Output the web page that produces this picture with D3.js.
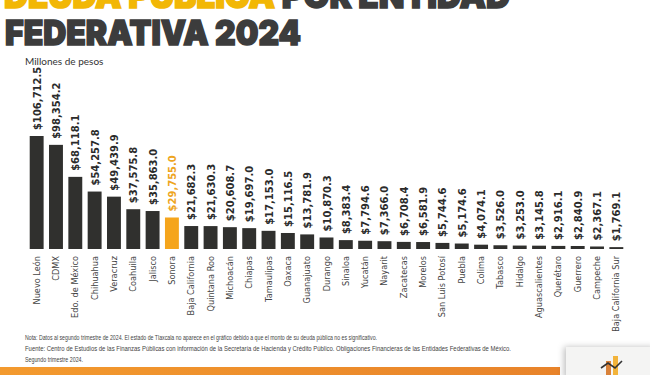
<!DOCTYPE html>
<html>
<head>
<meta charset="utf-8">
<script src="https://cdn.jsdelivr.net/npm/d3@7"></script>
<style>
  html, body { margin: 0; padding: 0; background: #fff; }
  svg { display: block; }
</style>
</head>
<body>
<svg id="chart"></svg>
<script>
const width = 650;
const height = 375;

// data
const estados = ["Nuevo León", "CDMX", "Edo. de México", "Chihuahua", "Veracruz", "Coahuila", "Jalisco",
  "Sonora", "Baja California", "Quintana Roo", "Michoacán", "Chiapas", "Tamaulipas", "Oaxaca",
  "Guanajuato", "Durango", "Sinaloa", "Yucatán", "Nayarit", "Zacatecas", "Morelos", "San Luis Potosí",
  "Puebla", "Colima", "Tabasco", "Hidalgo", "Aguascalientes", "Querétaro", "Guerrero", "Campeche",
  "Baja California Sur"];
const deuda = [106712.5, 98354.2, 68118.1, 54257.8, 49439.9, 37575.8, 35863.0,
  29755.0, 21682.3, 21630.3, 20608.7, 19697.0, 17153.0, 15116.5,
  13781.9, 10870.3, 8383.4, 7794.6, 7366.0, 6708.4, 6581.9, 5744.6,
  5174.6, 4074.1, 3526.0, 3253.0, 3145.8, 2916.1, 2840.9, 2367.1,
  1769.1];
const destacado = "Sonora";
const notas = [
  "Nota: Datos al segundo trimestre de 2024. El estado de Tlaxcala no aparece en el gráfico debido a que el monto de su deuda pública no es significativo.",
  "Fuente: Centro de Estudios de las Finanzas Públicas con información de la Secretaría de Hacienda y Crédito Público. Obligaciones Financieras de las Entidades Federativas de México.",
  "Segundo trimestre 2024."
];

const data = estados.map((e, i) => ({ estado: e, valor: deuda[i] }));

const dark = "#30302e";
const yellow = "#f5a51c";
const fmt = d3.format("$,.1f");

const svg = d3.select("#chart")
  .attr("width", width)
  .attr("height", height)
  .attr("viewBox", `0 0 ${width} ${height}`);

// title (first line is cut off at the top, as in the original)
const t1 = svg.append("text")
  .attr("x", 4).attr("y", 8)
  .attr("font-family", "Inter, 'DejaVu Sans', sans-serif")
  .attr("font-weight", 900)
  .attr("font-size", 34)
  .attr("stroke-width", 1.6)
  .attr("textLength", 506).attr("lengthAdjust", "spacingAndGlyphs");
t1.append("tspan").attr("fill", "#f2b705").attr("stroke", "#f2b705").text("DEUDA PÚBLICA ");
t1.append("tspan").attr("fill", "#3c3c3c").attr("stroke", "#3c3c3c").text("POR ENTIDAD");

svg.append("text")
  .attr("x", 5).attr("y", 45)
  .attr("font-family", "Inter, 'DejaVu Sans', sans-serif")
  .attr("font-weight", 900)
  .attr("font-size", 34)
  .attr("fill", "#3c3c3c")
  .attr("stroke", "#3c3c3c")
  .attr("stroke-width", 1.6)
  .attr("textLength", 296).attr("lengthAdjust", "spacingAndGlyphs")
  .text("FEDERATIVA 2024");

svg.append("text")
  .attr("x", 25).attr("y", 65)
  .attr("font-family", "Lato, sans-serif")
  .attr("font-size", 10)
  .attr("fill", "#333")
  .text("Millones de pesos");

// scales
const x = d3.scaleBand()
  .domain(estados)
  .range([27, 626])
  .paddingInner(0.28)
  .paddingOuter(0.14);

const baseline = 249;
const y = d3.scaleLinear()
  .domain([0, 106712.5])
  .range([baseline, 136]);

// bars
svg.append("g")
  .selectAll("rect")
  .data(data)
  .join("rect")
  .attr("x", d => x(d.estado))
  .attr("y", d => y(d.valor))
  .attr("width", x.bandwidth())
  .attr("height", d => baseline - y(d.valor))
  .attr("fill", d => d.estado === destacado ? yellow : dark);

// value labels
svg.append("g")
  .selectAll("text")
  .data(data)
  .join("text")
  .attr("transform", d => `translate(${x(d.estado) + x.bandwidth() / 2 + 4},${y(d.valor) - 6}) rotate(-90)`)
  .attr("font-family", "'DejaVu Sans', sans-serif")
  .attr("font-weight", "bold")
  .attr("font-size", 10)
  .attr("fill", d => d.estado === destacado ? "#eea51e" : "#2b2b2b")
  .text(d => fmt(d.valor));

// category labels
svg.append("g")
  .selectAll("text")
  .data(data)
  .join("text")
  .attr("transform", d => `translate(${x(d.estado) + x.bandwidth() / 2 + 3},${baseline + 7}) rotate(-90)`)
  .attr("text-anchor", "end")
  .attr("font-family", "'DejaVu Sans', sans-serif")
  .attr("font-size", 8.2)
  .attr("fill", "#444")
  .text(d => d.estado);

// footnotes
const notaW = [352, 486, 58];
svg.append("g")
  .selectAll("text")
  .data(notas)
  .join("text")
  .attr("x", 25)
  .attr("y", (d, i) => 340 + i * 11)
  .attr("font-family", "'Liberation Sans Narrow', 'Liberation Sans', sans-serif")
  .attr("font-size", 6.8)
  .attr("fill", "#444")
  .attr("textLength", (d, i) => notaW[i])
  .attr("lengthAdjust", "spacingAndGlyphs")
  .text(d => d);

// bottom band
const defs = svg.append("defs");
const grad = defs.append("linearGradient").attr("id", "band");
grad.append("stop").attr("offset", "0%").attr("stop-color", "#f39a2e");
grad.append("stop").attr("offset", "100%").attr("stop-color", "#e8832a");
svg.append("rect")
  .attr("x", 0).attr("y", 367).attr("width", 560).attr("height", 8)
  .attr("fill", "url(#band)");

// logo box
const shadow = defs.append("filter").attr("id", "sh")
  .attr("x", "-30%").attr("y", "-30%").attr("width", "160%").attr("height", "160%");
shadow.append("feDropShadow").attr("dx", -2).attr("dy", 0).attr("stdDeviation", 3)
  .attr("flood-color", "#000").attr("flood-opacity", 0.25);
svg.append("rect")
  .attr("x", 566).attr("y", 347).attr("width", 90).attr("height", 32)
  .attr("fill", "#f4f4f3").attr("filter", "url(#sh)");
const logo = svg.append("g").attr("transform", "translate(603,355)");
logo.append("rect").attr("x", 3).attr("y", 6).attr("width", 5).attr("height", 16).attr("fill", "#d9823a");
logo.append("rect").attr("x", 10).attr("y", 1).attr("width", 5).attr("height", 21).attr("fill", "#f2b33a");
logo.append("path")
  .attr("d", "M-2,13 L5,8 L12,13 L19,6")
  .attr("fill", "none").attr("stroke", "#333").attr("stroke-width", 1.6);
</script>
</body>
</html>
